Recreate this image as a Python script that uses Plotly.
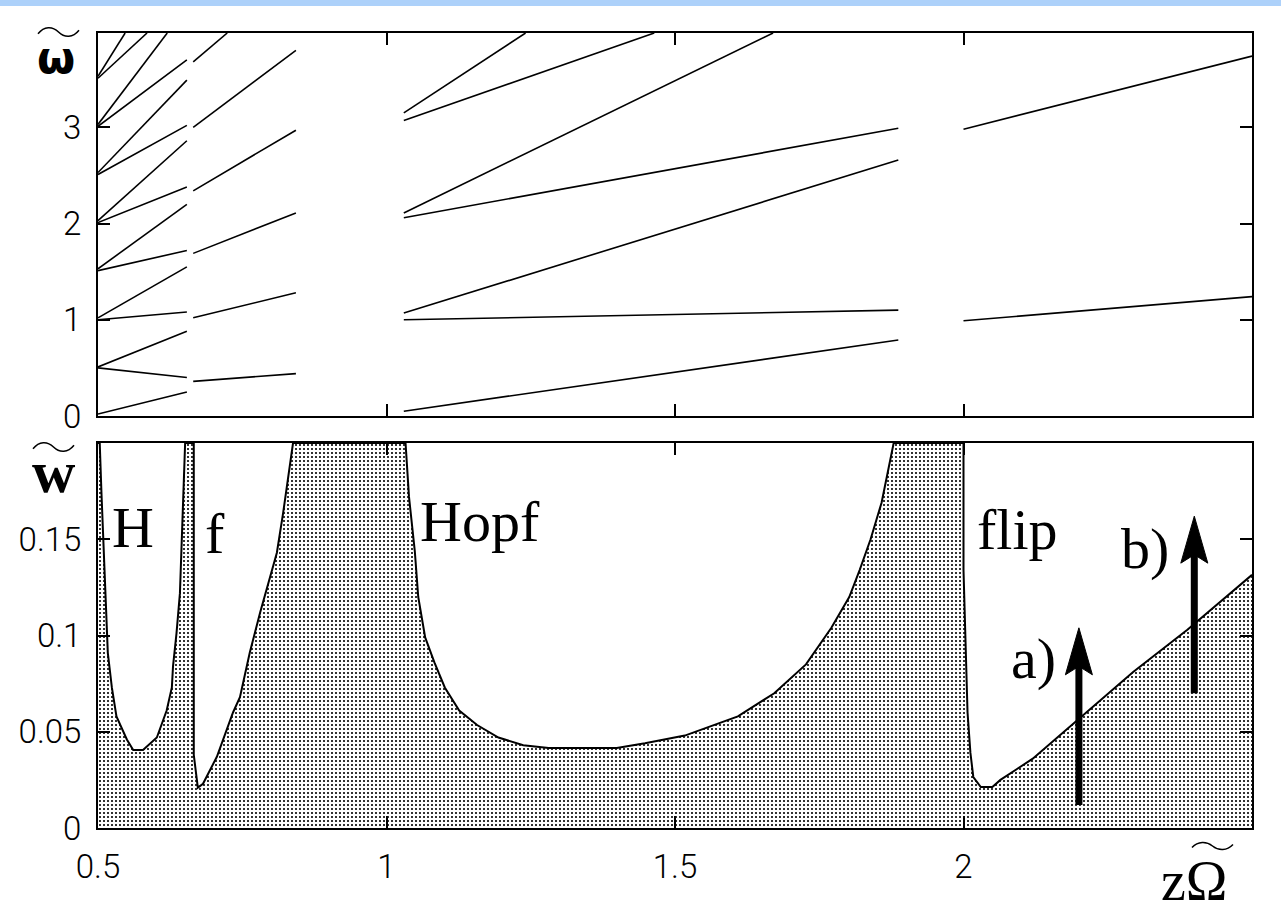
import plotly.graph_objects as go

# ---------------- upper panel: frequency branches (straight segments) ----------------
# each branch runs from (seg_x0, seg_y0) to (seg_x1, seg_y1)
seg_x0 = [0.5, 0.5, 0.5, 0.5, 0.5, 0.5, 0.5, 0.5, 0.5, 0.5, 0.5, 0.5, 0.5, 0.5, 0.5,
          0.665, 0.665, 0.665, 0.665, 0.665, 0.665,
          1.03, 1.03, 1.03, 1.03, 1.03, 1.03, 1.03,
          2.0, 2.0]
seg_y0 = [0.02, 0.50, 0.51, 1.00, 1.02, 1.51, 1.53, 2.01, 2.03, 2.51, 2.53, 3.01, 3.03, 3.51, 3.53,
          0.36, 1.02, 1.69, 2.34, 3.00, 3.68,
          0.05, 1.00, 1.07, 2.06, 2.11, 3.07, 3.15,
          0.99, 2.98]
seg_x1 = [0.654, 0.654, 0.654, 0.654, 0.654, 0.654, 0.654, 0.654, 0.654, 0.654, 0.654, 0.654, 0.620, 0.585, 0.547,
          0.843, 0.843, 0.843, 0.843, 0.843, 0.724,
          1.887, 1.887, 1.887, 1.887, 1.670, 1.464, 1.241,
          2.5, 2.5]
seg_y1 = [0.25, 0.40, 0.88, 1.08, 1.55, 1.72, 2.20, 2.38, 2.86, 3.02, 3.49, 3.70, 3.98, 3.98, 3.98,
          0.44, 1.28, 2.11, 2.97, 3.80, 3.98,
          0.79, 1.10, 2.66, 2.99, 3.98, 3.98, 3.98,
          1.24, 3.74]

# ---------------- lower panel: stability boundary (shaded below) ----------------
bound_x = [0.500, 0.503, 0.506, 0.512, 0.517, 0.524, 0.532, 0.550, 0.561, 0.578, 0.602, 0.619,
           0.628, 0.630, 0.636, 0.642, 0.645, 0.648, 0.651,
           0.666, 0.666, 0.673, 0.682, 0.706, 0.734, 0.746, 0.763, 0.781, 0.793, 0.810, 0.821,
           0.829, 0.838,
           1.033, 1.039, 1.049, 1.055, 1.067, 1.083, 1.101, 1.126, 1.157, 1.194, 1.237, 1.281,
           1.399, 1.448, 1.517, 1.554, 1.609, 1.672, 1.727, 1.771, 1.802, 1.820, 1.839, 1.858,
           1.870, 1.879,
           2.000, 2.000, 2.007, 2.012, 2.017, 2.030, 2.050, 2.064, 2.120, 2.190, 2.294, 2.388, 2.500]
bound_y = [0.200, 0.200, 0.174, 0.124, 0.091, 0.073, 0.058, 0.046, 0.0405, 0.0405, 0.047, 0.061,
           0.073, 0.084, 0.101, 0.122, 0.148, 0.172, 0.200,
           0.200, 0.038, 0.021, 0.023, 0.037, 0.060, 0.068, 0.091, 0.112, 0.125, 0.143, 0.164,
           0.182, 0.200,
           0.200, 0.172, 0.144, 0.120, 0.099, 0.086, 0.073, 0.061, 0.0535, 0.047, 0.043, 0.0415,
           0.0415, 0.044, 0.048, 0.052, 0.058, 0.070, 0.085, 0.104, 0.120, 0.134, 0.150, 0.169,
           0.186, 0.200,
           0.200, 0.134, 0.060, 0.039, 0.0265, 0.0213, 0.0213, 0.025, 0.036, 0.054, 0.081, 0.103, 0.1315]

# arrows a) and b): vertical excursions of w~ at fixed zOmega~
arrow_names = ["a)", "b)"]
arrow_x = [2.2, 2.4]
arrow_base = [0.012, 0.070]
arrow_tip = [0.104, 0.162]

region_names = ["H", "f", "Hopf", "flip"]

# ---------------- geometry ----------------
W, H = 1281, 918
L, R, T, B = 98, 29, 33, 90
plot_w = W - L - R
plot_h = H - T - B
top_bottom_px = 416   # lower edge of upper frame
low_top_px = 443      # upper edge of lower frame
X_RANGE = [0.5, 2.5]
Y1_RANGE = [0, 3.98]
Y2_RANGE = [0, 0.2]
dom_top = [(H - B - top_bottom_px) / plot_h, 1.0]
dom_low = [0.0, (H - B - low_top_px) / plot_h]


def to_paper(px, py):
    return (px - L) / plot_w, (H - B - py) / plot_h


# pixel scale of the lower panel (for arrow-head size)
low_h_px = (H - B) - low_top_px
sx = plot_w / (X_RANGE[1] - X_RANGE[0])
sy = low_h_px / (Y2_RANGE[1] - Y2_RANGE[0])

fig = go.Figure()

# upper panel segments as one trace
lx, ly = [], []
for x0, y0, x1, y1 in zip(seg_x0, seg_y0, seg_x1, seg_y1):
    lx += [x0, x1, None]
    ly += [y0, y1, None]
fig.add_trace(go.Scatter(x=lx, y=ly, mode="lines", line=dict(color="black", width=1.6),
                         xaxis="x", yaxis="y", hoverinfo="skip", showlegend=False))

# lower panel boundary with dotted fill
fig.add_trace(go.Scatter(x=bound_x, y=bound_y, mode="lines", fill="tozeroy",
                         line=dict(color="black", width=2),
                         fillpattern=dict(shape=".", size=4, solidity=0.22,
                                          fgcolor="black", bgcolor="white", fillmode="replace"),
                         fillcolor="white",
                         xaxis="x2", yaxis="y2", hoverinfo="skip", showlegend=False))

tick_font = dict(family="Roboto", size=33, color="black", weight=300)
common_x = dict(range=X_RANGE, showgrid=False, zeroline=False, showline=True, linecolor="black",
                linewidth=2, mirror="ticks", ticks="inside", ticklen=12, tickwidth=2,
                tickcolor="black", tickvals=[0.5, 1, 1.5, 2, 2.5])
common_y = dict(showgrid=False, zeroline=False, showline=True, linecolor="black", linewidth=2,
                mirror="ticks", ticks="inside", ticklen=12, tickwidth=2, tickcolor="black",
                tickfont=tick_font, ticklabelstandoff=8)

shapes = []
# light blue band along the top of the page
bx0, by0 = to_paper(0, 0)
bx1, by1 = to_paper(W, 6)
shapes.append(dict(type="rect", xref="paper", yref="paper", x0=bx0, x1=bx1, y0=by1, y1=by0,
                   fillcolor="#add1fa", line=dict(width=0), layer="above"))

# arrows
head_len = 47 / sy
head_half = 13.5 / sx
for xa, y0, y1 in zip(arrow_x, arrow_base, arrow_tip):
    shapes.append(dict(type="line", xref="x2", yref="y2", x0=xa, x1=xa, y0=y0,
                       y1=y1 - 0.8 * head_len, line=dict(color="black", width=7), layer="above"))
    path = (f"M {xa},{y1} L {xa - head_half},{y1 - head_len} "
            f"L {xa},{y1 - 0.82 * head_len} L {xa + head_half},{y1 - head_len} Z")
    shapes.append(dict(type="path", xref="paper" if False else "x2", yref="y2", path=path,
                       fillcolor="black", line=dict(color="black", width=1), layer="above"))


# wavy tilde over an axis symbol: left end x0, right end x1, centre line yc (pixels)
def tilde(x0, x1, yc, amp):
    w = x1 - x0
    pts = [(x0, yc + amp * 0.3),
           (x0 + 0.15 * w, yc - amp), (x0 + 0.35 * w, yc - amp), (x0 + 0.5 * w, yc),
           (x0 + 0.65 * w, yc + amp), (x0 + 0.85 * w, yc + amp), (x1, yc - amp * 0.3)]
    p = [to_paper(*q) for q in pts]
    path = (f"M {p[0][0]},{p[0][1]} C {p[1][0]},{p[1][1]} {p[2][0]},{p[2][1]} {p[3][0]},{p[3][1]} "
            f"C {p[4][0]},{p[4][1]} {p[5][0]},{p[5][1]} {p[6][0]},{p[6][1]}")
    return dict(type="path", xref="paper", yref="paper", path=path,
                line=dict(color="black", width=1.5), layer="above")


shapes.append(tilde(38, 79, 32, 6))
shapes.append(tilde(33, 74, 447, 6))
shapes.append(tilde(1192, 1233, 846, 5))

serif = dict(family="Liberation Serif", size=58, color="black")
annotations = []
region_pos = {"H": (0.521, 0.156), "f": (0.682, 0.153), "Hopf": (1.054, 0.159), "flip": (2.02, 0.155)}
for name in region_names:
    xp, yp = region_pos[name]
    annotations.append(dict(text=name, x=xp, y=yp, xref="x2", yref="y2", showarrow=False,
                            xanchor="left", yanchor="middle", font=serif))
arrow_label_pos = {"a)": (2.163, 0.088), "b)": (2.360, 0.145)}
for name in arrow_names:
    xp, yp = arrow_label_pos[name]
    annotations.append(dict(text=name, x=xp, y=yp, xref="x2", yref="y2", showarrow=False,
                            xanchor="right", yanchor="middle", font=serif))

# axis symbols
ox, oy = to_paper(56, 58)
annotations.append(dict(text="ω", x=ox, y=oy, xref="paper", yref="paper", showarrow=False,
                        xanchor="center", yanchor="middle",
                        font=dict(family="DejaVu Sans", size=44, color="black", weight="bold")))
wx, wy = to_paper(54, 472)
annotations.append(dict(text="w", x=wx, y=wy, xref="paper", yref="paper", showarrow=False,
                        xanchor="center", yanchor="middle",
                        font=dict(family="Liberation Serif", size=60, color="black", weight="bold")))
zx, zy = to_paper(1194, 881)
annotations.append(dict(text="zΩ", x=zx, y=zy, xref="paper", yref="paper", showarrow=False,
                        xanchor="center", yanchor="middle",
                        font=dict(family="Liberation Serif", size=56, color="black")))

fig.update_layout(
    width=W, height=H, margin=dict(l=L, r=R, t=T, b=B),
    paper_bgcolor="white", plot_bgcolor="white", showlegend=False,
    xaxis=dict(common_x, anchor="y", domain=[0, 1], showticklabels=False),
    yaxis=dict(common_y, anchor="x", domain=dom_top, range=Y1_RANGE, tickvals=[0, 1, 2, 3]),
    xaxis2=dict(common_x, anchor="y2", domain=[0, 1], ticktext=["0.5", "1", "1.5", "2", ""],
                tickfont=tick_font, ticklabelstandoff=8),
    yaxis2=dict(common_y, anchor="x2", domain=dom_low, range=Y2_RANGE,
                tickvals=[0, 0.05, 0.1, 0.15, 0.2], ticktext=["0", "0.05", "0.1", "0.15", ""]),
    shapes=shapes, annotations=annotations,
)

fig.write_html("out.html")
